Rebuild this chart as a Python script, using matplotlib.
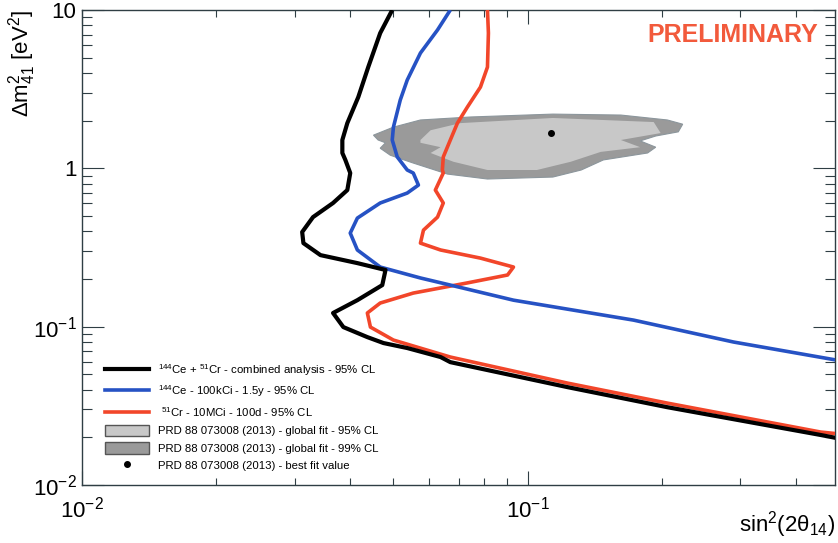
import matplotlib
matplotlib.use("Agg")
import matplotlib.pyplot as plt
from matplotlib.lines import Line2D
from matplotlib.patches import Patch
from matplotlib.ticker import FixedLocator, LogLocator, NullFormatter, FixedFormatter

plt.rcParams['font.family'] = ['Liberation Sans', 'DejaVu Sans']
plt.rcParams['mathtext.fontset'] = 'custom'
plt.rcParams['mathtext.rm'] = 'Liberation Sans'
plt.rcParams['mathtext.it'] = 'Liberation Sans:italic'
plt.rcParams['mathtext.bf'] = 'Liberation Sans:bold'

# combined 144Ce + 51Cr exclusion contour (sin^2 2theta, dm^2)
comb_x = [0.0497, 0.0467, 0.0439, 0.0417, 0.0394, 0.0384, 0.0384, 0.0390, 0.0400,
          0.0394, 0.0366, 0.0330, 0.0312, 0.0314, 0.0343, 0.0415, 0.0480, 0.0472,
          0.0415, 0.0366, 0.0386, 0.0437, 0.0475, 0.0537, 0.0638, 0.0671, 0.123,
          0.206, 0.455, 0.494]
comb_y = [10.0, 7.15, 4.36, 2.82, 1.93, 1.51, 1.25, 1.13, 0.934,
          0.729, 0.604, 0.492, 0.396, 0.337, 0.283, 0.252, 0.228, 0.183,
          0.147, 0.122, 0.0994, 0.0859, 0.0788, 0.0733, 0.0643, 0.0597, 0.0415,
          0.0310, 0.0207, 0.0198]

# 144Ce only
ce_x = [0.0671, 0.0628, 0.0575, 0.0537, 0.0518, 0.0500, 0.0497, 0.0510, 0.0537,
        0.0554, 0.0569, 0.0537, 0.0467, 0.0415, 0.0400, 0.0415, 0.0467, 0.0575,
        0.0718, 0.0930, 0.119, 0.173, 0.290, 0.494]
ce_y = [10.0, 7.48, 5.35, 3.61, 2.70, 1.82, 1.51, 1.18, 0.976,
        0.934, 0.784, 0.698, 0.604, 0.485, 0.390, 0.305, 0.238, 0.203,
        0.175, 0.147, 0.131, 0.110, 0.080, 0.0615]

# 51Cr only
cr_x = [0.0813, 0.0817, 0.0813, 0.0784, 0.0733, 0.0696, 0.0671, 0.0647, 0.0644,
        0.0647, 0.0621, 0.0647, 0.0628, 0.0584, 0.0575, 0.0638, 0.0784, 0.0930,
        0.0902, 0.0733, 0.0554, 0.0467, 0.0437, 0.0444, 0.0500, 0.0671, 0.123,
        0.206, 0.455, 0.494]
cr_y = [10.0, 7.15, 4.36, 3.26, 2.44, 1.93, 1.51, 1.18, 0.976,
        0.934, 0.729, 0.604, 0.492, 0.407, 0.337, 0.305, 0.271, 0.238,
        0.212, 0.189, 0.163, 0.141, 0.122, 0.0994, 0.0823, 0.0643, 0.0440,
        0.0329, 0.0216, 0.0211]

# global fit regions
fit99_x = [0.0451, 0.0500, 0.0575, 0.0745, 0.114, 0.162, 0.206, 0.223, 0.218, 0.194,
           0.179, 0.194, 0.186, 0.148, 0.132, 0.114, 0.0813, 0.0661, 0.0554, 0.0492,
           0.0467, 0.0480, 0.0462]
fit99_y = [1.62, 1.82, 2.02, 2.11, 2.20, 2.17, 2.02, 1.90, 1.70, 1.60,
           1.49, 1.36, 1.25, 1.13, 0.976, 0.881, 0.856, 0.920, 1.08, 1.21,
           1.34, 1.45, 1.51]
fit95_x = [0.0575, 0.0606, 0.0707, 0.114, 0.192, 0.199, 0.162, 0.179, 0.146, 0.125,
           0.105, 0.0813, 0.0682, 0.0606, 0.0638, 0.0575]
fit95_y = [1.51, 1.74, 1.93, 2.08, 1.96, 1.67, 1.51, 1.36, 1.27, 1.10,
           0.976, 0.976, 1.10, 1.25, 1.36, 1.45]
best_x, best_y = [0.1127], [1.67]

labels = [r'$^{144}$Ce + $^{51}$Cr - combined analysis - 95% CL',
          r'$^{144}$Ce - 100kCi - 1.5y - 95% CL',
          r' $^{51}$Cr - 10MCi - 100d - 95% CL',
          'PRD 88 073008 (2013) - global fit - 95% CL',
          'PRD 88 073008 (2013) - global fit - 99% CL',
          'PRD 88 073008 (2013) - best fit value']

c_black, c_blue, c_red = '#000000', '#2652c4', '#f2462a'
c_light, c_dark = '#c8c8c8', '#9a9a9a'

fig = plt.figure(figsize=(8.38, 5.43), dpi=100)
ax = fig.add_axes([0.0979, 0.1068, 0.8985, 0.8748])

ax.fill(fit99_x, fit99_y, facecolor=c_dark, edgecolor='#8c969c', lw=0.8, zorder=1)
ax.fill(fit95_x, fit95_y, facecolor=c_light, edgecolor='none', zorder=2)
ax.plot(best_x, best_y, 'o', color='k', ms=4, zorder=3)

line_kw = dict(solid_joinstyle='round', solid_capstyle='butt')
ax.plot(cr_x, cr_y, color=c_red, lw=2.6, zorder=4, **line_kw)
ax.plot(ce_x, ce_y, color=c_blue, lw=2.6, zorder=5, **line_kw)
ax.plot(comb_x, comb_y, color=c_black, lw=3.0, zorder=6, **line_kw)

ax.set_xscale('log')
ax.set_yscale('log')
ax.set_xlim(0.01, 0.49)
ax.set_ylim(0.01, 10)

ax.xaxis.set_major_locator(FixedLocator([0.01, 0.1]))
ax.xaxis.set_major_formatter(FixedFormatter([r'$10^{-2}$', r'$10^{-1}$']))
ax.xaxis.set_minor_locator(LogLocator(base=10, subs=range(2, 10)))
ax.xaxis.set_minor_formatter(NullFormatter())
ax.yaxis.set_major_locator(FixedLocator([0.01, 0.1, 1, 10]))
ax.yaxis.set_major_formatter(FixedFormatter([r'$10^{-2}$', r'$10^{-1}$', '1', '10']))
ax.yaxis.set_minor_locator(LogLocator(base=10, subs=range(2, 10)))
ax.yaxis.set_minor_formatter(NullFormatter())

spine_c = '#2f3e44'
for s in ax.spines.values():
    s.set_color(spine_c)
    s.set_linewidth(1.0)
ax.tick_params(which='both', direction='in', top=True, right=True, color=spine_c, width=0.8)
ax.tick_params(axis='x', which='major', length=10, labelsize=16, pad=8)
ax.tick_params(axis='x', which='minor', length=5)
ax.tick_params(axis='y', which='major', length=16, labelsize=16, pad=4)
ax.tick_params(axis='y', which='minor', length=7)

ax.set_ylabel(r'$\mathregular{\Delta m^2_{41}}$ [eV$^2$]', fontsize=16, loc='top')
ax.yaxis.set_label_coords(-0.058, 1.0)
ax.set_xlabel(r'sin$^2$(2$\mathregular{\theta_{14}}$)', fontsize=16, loc='right')
ax.xaxis.set_label_coords(1.0, -0.05)

ax.text(0.977, 0.947, 'PRELIMINARY', transform=ax.transAxes, ha='right', va='center',
        fontsize=18, fontweight='bold', color='#f25a3c')

handles = [Line2D([], [], color=c_black, lw=3.0),
           Line2D([], [], color=c_blue, lw=2.6),
           Line2D([], [], color=c_red, lw=2.6),
           Patch(facecolor=c_light, edgecolor='#555555', lw=1.0),
           Patch(facecolor=c_dark, edgecolor='#555555', lw=1.0),
           Line2D([], [], marker='o', color='k', ls='none', ms=4)]
ax.legend(handles, labels, loc='lower left', bbox_to_anchor=(0.025, 0.02),
          frameon=False, fontsize=8.2, handlelength=3.8, handleheight=1.2,
          labelspacing=0.5, handletextpad=0.8, borderaxespad=0)

fig.savefig('out.png', dpi=100)
